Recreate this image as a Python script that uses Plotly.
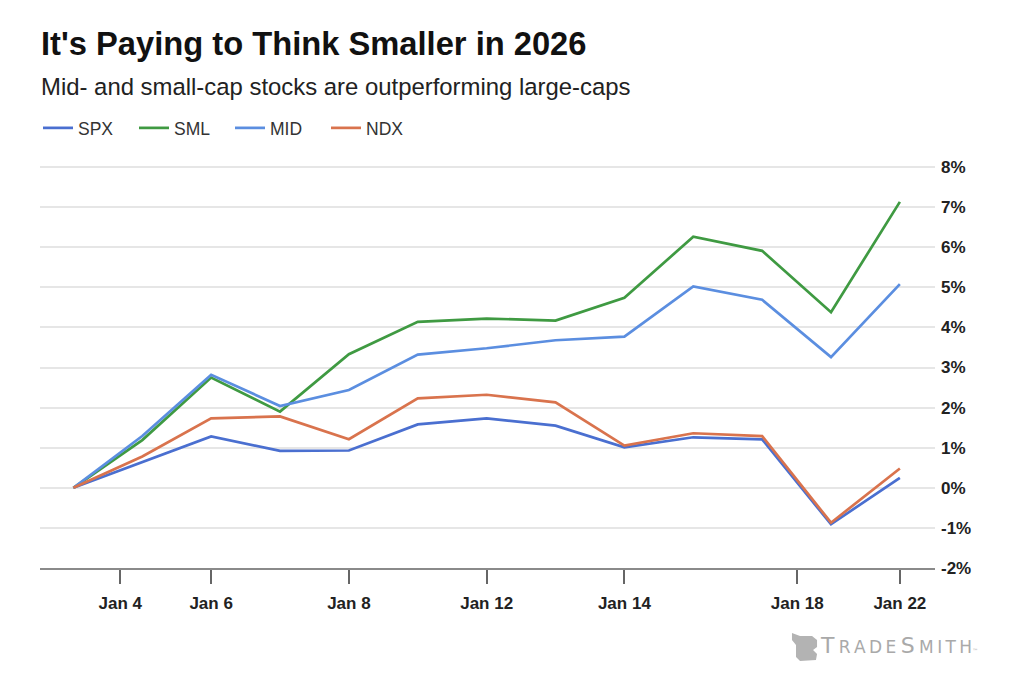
import plotly.graph_objects as go

# trading sessions shown on the chart, in order
sessions = [0, 1, 2, 3, 4, 5, 6, 7, 8, 9, 10, 11, 12]

# cumulative return in %
spx = [0, 0.65, 1.28, 0.92, 0.93, 1.58, 1.73, 1.55, 1.01, 1.26, 1.21, -0.91, 0.25]
sml = [0, 1.19, 2.75, 1.90, 3.33, 4.14, 4.22, 4.17, 4.74, 6.26, 5.91, 4.38, 7.13]
mid = [0, 1.29, 2.82, 2.04, 2.44, 3.32, 3.48, 3.68, 3.77, 5.02, 4.69, 3.26, 5.08]
ndx = [0, 0.78, 1.73, 1.78, 1.21, 2.23, 2.32, 2.13, 1.05, 1.36, 1.29, -0.87, 0.48]

# x axis labels and where they sit
x_tick_pos = [0.68, 2, 4, 6, 8, 10.51, 12]
x_tick_text = ["Jan 4", "Jan 6", "Jan 8", "Jan 12", "Jan 14", "Jan 18", "Jan 22"]

y_tick_vals = [-2, -1, 0, 1, 2, 3, 4, 5, 6, 7, 8]
y_tick_text = ["-2%", "-1%", "0%", "1%", "2%", "3%", "4%", "5%", "6%", "7%", "8%"]

series = [
    ("SPX", spx, "#4a6fd0"),
    ("SML", sml, "#3f9a42"),
    ("MID", mid, "#5b8ee0"),
    ("NDX", ndx, "#d9734d"),
]

FONT = "Liberation Sans, Arial, sans-serif"

fig = go.Figure()
for name, vals, col in series:
    fig.add_trace(go.Scatter(
        x=sessions, y=vals, name=name, mode="lines",
        line=dict(color=col, width=2.7),
        hovertemplate="%{y:.2f}%<extra>" + name + "</extra>",
    ))

# the page body has an 8px margin, so the figure is drawn a bit smaller
# and the plot box is placed in page pixels
OFF = 8
W, H = 1024 - 2 * OFF, 680 - 2 * OFF
box_l, box_r, box_t, box_b = 40, 935, 165, 568
pw, ph = box_r - box_l, box_b - box_t


def px(x):
    return (x - box_l) / pw


def py(y):
    return (box_b - y) / ph


fig.update_layout(
    width=W, height=H,
    margin=dict(l=box_l - OFF, r=W + OFF - box_r, t=box_t - OFF, b=H + OFF - box_b),
    paper_bgcolor="white", plot_bgcolor="white",
    font=dict(family=FONT, color="#222"),
    showlegend=True,
    legend=dict(
        orientation="h", x=px(38), y=py(128), xanchor="left", yanchor="middle",
        xref="paper", yref="paper",
        entrywidth=51, entrywidthmode="pixels",
        font=dict(size=17.5, color="#333"),
        bgcolor="rgba(0,0,0,0)",
    ),
    xaxis=dict(
        range=[-0.485, 12.51],
        tickvals=x_tick_pos, ticktext=x_tick_text,
        showgrid=False, zeroline=False,
        showline=True, linecolor="#8a8a8a", linewidth=1.5,
        ticks="outside", ticklen=14, tickwidth=1.5, tickcolor="#666",
        ticklabelstandoff=5,
        tickfont=dict(size=17, color="#222", family=FONT, weight="bold"),
    ),
    yaxis=dict(
        range=[-2, 8.05], side="right",
        tickvals=y_tick_vals, ticktext=y_tick_text,
        showgrid=True, gridcolor="#e6e6e6", gridwidth=1.5,
        zeroline=False, showline=False, ticks="",
        ticklabelstandoff=5,
        tickfont=dict(size=17, color="#222", family=FONT, weight="bold"),
    ),
)

fig.add_annotation(
    text="<b>It's Paying to Think Smaller in 2026</b>",
    xref="paper", yref="paper", x=px(39), y=py(44),
    xanchor="left", yanchor="middle", showarrow=False,
    font=dict(size=32.7, color="#111", family=FONT),
)
fig.add_annotation(
    text="Mid- and small-cap stocks are outperforming large-caps",
    xref="paper", yref="paper", x=px(39), y=py(86),
    xanchor="left", yanchor="middle", showarrow=False,
    font=dict(size=23.9, color="#222", family=FONT),
)

# watermark
sp = "\u2009"
fig.add_annotation(
    text="T" + sp + "<span style='font-size:17px'>" + sp.join("RADE") + "</span>" + sp
         + "S" + sp + "<span style='font-size:17px'>" + sp.join("MITH") + "</span>"
         "<span style='font-size:6px'>™</span>",
    xref="paper", yref="paper", x=px(818), y=py(645),
    xanchor="left", yanchor="middle", showarrow=False,
    font=dict(size=22, color="#a9a9a9", family="DejaVu Sans, sans-serif"),
)
icon = [(792, 633), (800, 636), (812, 636), (817, 640), (817, 647), (813, 650),
        (817, 654), (816, 660), (800, 661), (796, 657), (796, 645), (792, 640)]
path = "M " + " L ".join(f"{px(a):.4f},{py(b):.4f}" for a, b in icon) + " Z"
fig.add_shape(type="path", path=path, xref="paper", yref="paper",
              fillcolor="#b3b3b3", line=dict(width=0), layer="above")

fig.write_html("out.html")
